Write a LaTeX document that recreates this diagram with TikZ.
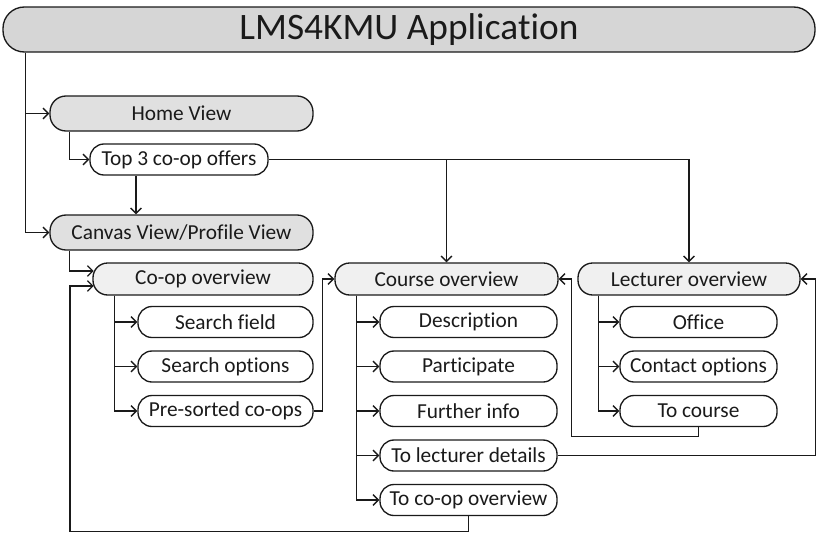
\documentclass[tikz,border=0pt]{standalone}
\usepackage{fontspec}
\setmainfont[Ligatures={NoCommon,NoRare,NoContextual},RawFeature={-liga,-dlig,-clig,-calt}]{Carlito}
\usetikzlibrary{arrows.meta}
\definecolor{titlefill}{HTML}{D6D6D6}
\definecolor{viewfill}{HTML}{E0E0E0}
\definecolor{ovfill}{HTML}{F0F0F0}
\definecolor{ink}{HTML}{1A1A1A}
\begin{document}
\begin{tikzpicture}[x=0.75pt,y=-0.75pt,
  line width=1pt, draw=ink, text=ink,
  pill/.style={draw, rounded corners=10.5pt, inner sep=0pt, minimum height=31*0.75pt,
    font=\fontsize{16}{19}\selectfont},
  view/.style={pill, fill=viewfill, rounded corners=12pt, minimum height=35*0.75pt, minimum width=263*0.75pt},
  ov/.style={pill, fill=ovfill, rounded corners=11pt, minimum height=32*0.75pt},
  arr/.style={-{Straight Barb[length=4pt,width=8pt]}}]
\useasboundingbox (0,0) rectangle (817,532);

\node[draw, fill=titlefill, rounded corners=16pt, minimum width=812*0.75pt, minimum height=45*0.75pt,
  inner sep=0pt, font=\fontsize{28}{32}\selectfont] (title) at (409,29.5) {LMS4KMU Applica\kern0pt tion};

\node[view] (home) at (181.5,113.5) {Home View};
\node[pill, minimum width=178*0.75pt] (top3) at (179,159.5) {Top 3 co-op offers};
\node[view] (canvas) at (181.5,232.5) {Canvas View/Profile View};

\node[ov, minimum width=220*0.75pt] (coop) at (203,279) {Co-op overview};
\node[ov, minimum width=223*0.75pt] (course) at (446.5,279) {Course overview};
\node[ov, minimum width=222*0.75pt] (lect) at (689,279) {Lecturer overview};

\node[pill, minimum width=175*0.75pt] (sf) at (225.5,322) {Search field};
\node[pill, minimum width=175*0.75pt] (so) at (225.5,366.5) {Search options};
\node[pill, minimum width=175*0.75pt] (ps) at (225.5,411) {Pre-sorted co-ops};

\node[pill, minimum width=177*0.75pt] (desc) at (468.5,322) {Description};
\node[pill, minimum width=177*0.75pt] (part) at (468.5,366.5) {Participate};
\node[pill, minimum width=177*0.75pt] (fi) at (468.5,411) {Further info};
\node[pill, minimum width=177*0.75pt] (tld) at (468.5,455.5) {To lecturer details};
\node[pill, minimum width=177*0.75pt] (tco) at (468.5,500) {To co-op overview};

\node[pill, minimum width=157*0.75pt] (office) at (698.5,322) {Office};
\node[pill, minimum width=157*0.75pt] (contact) at (698.5,366.5) {Contact options};
\node[pill, minimum width=157*0.75pt] (tocourse) at (698.5,411) {To course};

% trunk from title
\draw[arr] (title.south west) ++(23,0) |- (home.west);
\draw[arr] (title.south west) ++(23,0) |- (canvas.west);
% home -> top3
\draw[arr] (home.south west) ++(20,0) |- (top3.west);
% top3 -> canvas
\draw[arr] (top3.south) ++(-43,0) coordinate (t3d) -- (t3d |- canvas.north);
% top3 -> course, lecturer
\draw[arr] (top3.east) -| (course.north);
\draw[arr] (top3.east) -| (lect.north);
% canvas -> coop
\draw[arr] (canvas.south west) ++(20,0) |- ([yshift=6pt,xshift=1pt]coop.west);
% coop children
\draw[arr] (coop.south west) ++(22,0) |- (sf.west);
\draw[arr] (coop.south west) ++(22,0) |- (so.west);
\draw[arr] (coop.south west) ++(22,0) |- (ps.west);
% pre-sorted -> course
\draw[arr] (ps.east) -- ++(9,0) |- (course.west);
% course children
\draw[arr] (course.south west) ++(22,0) |- (desc.west);
\draw[arr] (course.south west) ++(22,0) |- (part.west);
\draw[arr] (course.south west) ++(22,0) |- (fi.west);
\draw[arr] (course.south west) ++(22,0) |- (tld.west);
\draw[arr] (course.south west) ++(22,0) |- (tco.west);
% lecturer children
\draw[arr] (lect.south west) ++(21,0) |- (office.west);
\draw[arr] (lect.south west) ++(21,0) |- (contact.west);
\draw[arr] (lect.south west) ++(21,0) |- (tocourse.west);
% to course -> course overview
\draw[arr] (tocourse.south) -- ++(0,9) -- ++(-127,0) |- (course.east);
% to lecturer details -> lecturer overview
\draw[arr] (tld.east) -- ++(258,0) |- (lect.east);
% to co-op overview -> coop
\draw[arr] (tco.south) -- ++(0,15.5) -| (70,400) |- ([yshift=-5.25pt,xshift=1pt]coop.west);
\end{tikzpicture}
\end{document}
